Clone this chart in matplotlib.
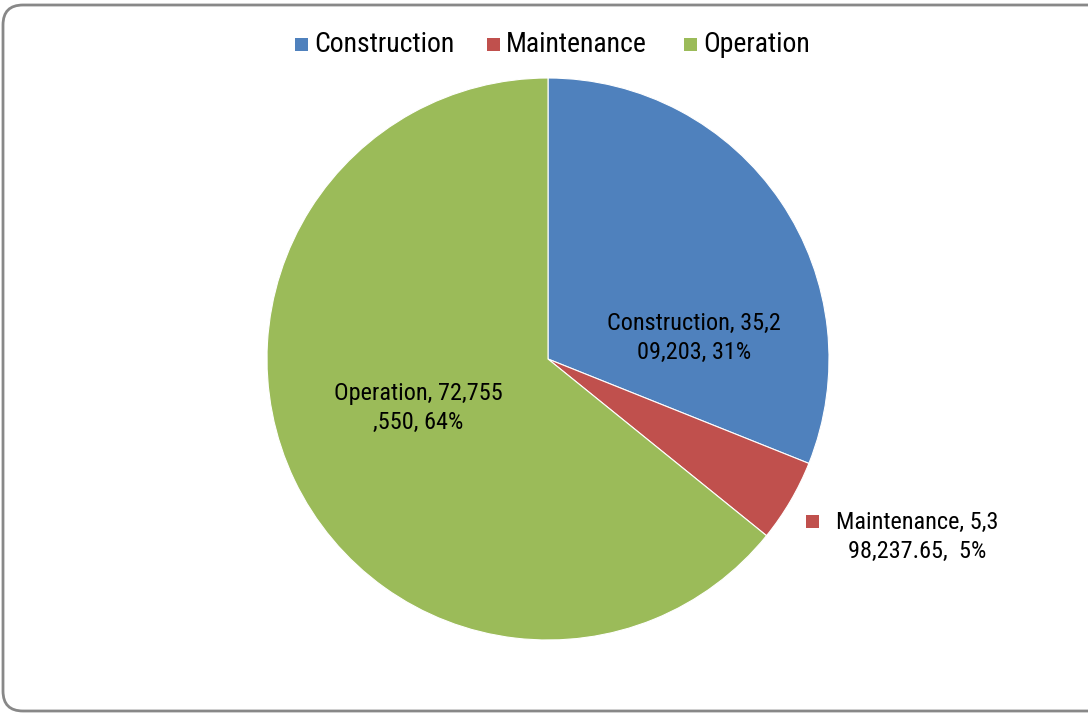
import matplotlib
matplotlib.use("Agg")
import matplotlib.pyplot as plt
from matplotlib.patches import FancyBboxPatch, Rectangle
from matplotlib import font_manager

categories = ["Construction", "Maintenance", "Operation"]
values = [35209203, 5398237.65, 72755550]
colors = ["#4F81BD", "#C0504D", "#9BBB59"]
label_texts = ["Construction, 35,2\n09,203, 31%", "Maintenance, 5,3\n98,237.65,  5%", "Operation, 72,755\n,550, 64%"]

names = {f.name for f in font_manager.fontManager.ttflist}
fam = [f for f in ["Liberation Sans Narrow", "Roboto Condensed", "Liberation Sans", "DejaVu Sans"] if f in names]
plt.rcParams['font.family'] = fam

W, H = 1088, 713
fig = plt.figure(figsize=(W/100, H/100), dpi=100)
ax = fig.add_axes([0, 0, 1, 1])

# border
ax.add_patch(FancyBboxPatch((3+20, 2+20), W+40-3, H-5-2-40, boxstyle="round,pad=20",
                            fc="white", ec="#888888", lw=2, zorder=0))

cx, cy, r = 548, H - 359, 281
ax.pie(values, colors=colors, startangle=90, counterclock=False, center=(cx, cy), radius=r,
       wedgeprops=dict(linewidth=0.8, edgecolor="white"), frame=True)
ax.set_xlim(0, W)
ax.set_ylim(0, H)
ax.axis("off")

fs = 17.5
ls = 1.3
ax.text(694, H - 338, label_texts[0], ha="center", va="center", fontsize=fs, linespacing=ls)
ax.text(418, H - 408, label_texts[2], ha="center", va="center", fontsize=fs, linespacing=ls)
ax.add_patch(Rectangle((806, H - 528), 13, 13, fc=colors[1], ec="none"))
ax.text(917, H - 537, label_texts[1], ha="center", va="center", fontsize=fs, linespacing=ls)

# legend
leg_x = [295, 487, 684]
for x, c, n in zip(leg_x, colors, categories):
    ax.add_patch(Rectangle((x, H - 51), 13, 13, fc=c, ec="none"))
    ax.text(x + 19, H - 44, n, ha="left", va="center", fontsize=20)

fig.savefig("out.png", dpi=100)
